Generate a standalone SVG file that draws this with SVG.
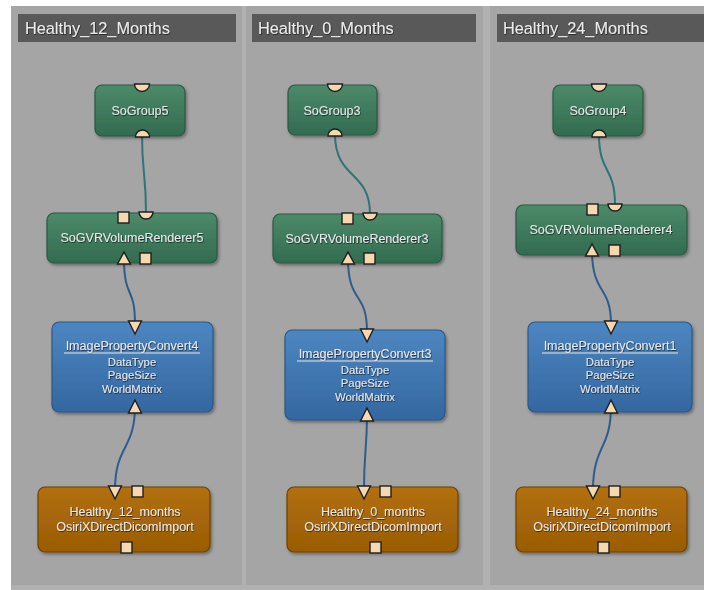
<svg xmlns="http://www.w3.org/2000/svg" width="704" height="590" viewBox="0 0 704 590">
<defs>
<linearGradient id="gGreen" x1="0" y1="0" x2="0" y2="1"><stop offset="0" stop-color="#4b8a69"/><stop offset="1" stop-color="#336b50"/></linearGradient>
<linearGradient id="gBlue" x1="0" y1="0" x2="0" y2="1"><stop offset="0" stop-color="#4d86c0"/><stop offset="1" stop-color="#3467a0"/></linearGradient>
<linearGradient id="gOrange" x1="0" y1="0" x2="0" y2="1"><stop offset="0" stop-color="#b2700c"/><stop offset="1" stop-color="#995c04"/></linearGradient>
<filter id="shadow" x="-10%" y="-10%" width="125%" height="135%"><feDropShadow dx="1.5" dy="2" stdDeviation="1.5" flood-color="#000" flood-opacity="0.35"/></filter>
<filter id="tshadow" x="-5%" y="-20%" width="110%" height="150%"><feDropShadow dx="0.6" dy="0.8" stdDeviation="0.4" flood-color="#000" flood-opacity="0.7"/></filter>
</defs>
<style>
.panel{fill:#a5a5a5}
.title{fill:#595959}
.ttext{font-family:"Liberation Sans",Arial,sans-serif;font-size:16.3px;fill:#ececec;filter:url(#tshadow)}
.green{fill:url(#gGreen);stroke:#2a5842;stroke-width:1.2;filter:url(#shadow)}
.blue{fill:url(#gBlue);stroke:#2b5886;stroke-width:1.2;filter:url(#shadow)}
.orange{fill:url(#gOrange);stroke:#6c4204;stroke-width:1.2;filter:url(#shadow)}
.lbl{font-family:"Liberation Sans",Arial,sans-serif;font-size:12.5px;fill:#e8e8e8;text-anchor:middle;filter:url(#tshadow)}
.sub{font-family:"Liberation Sans",Arial,sans-serif;font-size:11.3px;fill:#e8e8e8;text-anchor:middle;filter:url(#tshadow)}
.port{fill:#f6d8b0;stroke:#1e1e1e;stroke-width:1.4}
.c-teal{fill:none;stroke:#2f7478;stroke-width:2}
.c-blue{fill:none;stroke:#2e5d8c;stroke-width:2}
.ul{stroke:#e8e8e8;stroke-width:1.1}
</style>
<rect x="0" y="0" width="704" height="590" fill="#ffffff"/>
<rect x="11" y="6" width="693" height="584" fill="#b1b1b1"/>
<rect class="panel" x="11" y="6" width="231" height="579"/>
<rect class="panel" x="246" y="6" width="237" height="579"/>
<rect class="panel" x="490" y="6" width="214" height="579"/>
<rect class="title" x="18" y="14" width="218" height="28"/>
<rect class="title" x="252" y="14" width="224" height="28"/>
<rect class="title" x="497" y="14" width="207" height="28"/>
<text class="ttext" x="25" y="34">Healthy_12_Months</text>
<text class="ttext" x="258" y="34">Healthy_0_Months</text>
<text class="ttext" x="503" y="34">Healthy_24_Months</text>

<g id="connectors">
<path class="c-teal" d="M142,134 C142,175 146,172 146,213"/>
<path class="c-blue" d="M124,258 C124,300 135,285 135,324"/>
<path class="c-blue" d="M135,406 C135,450 115,445 115,490"/>
<path class="c-teal" d="M335,134 C335,180 370,170 370,214"/>
<path class="c-blue" d="M348,258 C348,305 367,290 367,332"/>
<path class="c-blue" d="M367,414 C367,450 364,450 364,490"/>
<path class="c-teal" d="M599,134 C599,175 615,165 615,205"/>
<path class="c-blue" d="M592,250 C592,295 611,285 611,324"/>
<path class="c-blue" d="M611,406 C611,450 593,445 593,490"/>
</g>

<g id="SoGroup5">
<rect class="green" x="95" y="85" width="90" height="51" rx="7"/>
<path class="port" d="M134.5,84 A7.5,7.5 0 0 0 149.5,84 Z"/>
<path class="port" d="M135.5,137 A7,7 0 0 1 149.5,137 Z"/>
<text class="lbl" x="140" y="115">SoGroup5</text>
</g>
<g id="SoGVRVolumeRenderer5">
<rect class="green" x="47" y="213" width="170" height="50" rx="7"/>
<rect class="port" x="118" y="212" width="11" height="11"/>
<path class="port" d="M139,212 A7,7 0 0 0 153,212 Z"/>
<path class="port" d="M117.5,264 L124,252 L130.5,264 Z"/>
<rect class="port" x="140" y="253" width="11" height="11"/>
<text class="lbl" x="132" y="242">SoGVRVolumeRenderer5</text>
</g>
<g id="ImagePropertyConvert4">
<rect class="blue" x="52" y="322" width="161" height="90" rx="7"/>
<path class="port" d="M128.5,321 L135,334 L141.5,321 Z"/>
<path class="port" d="M128.5,413 L135,400 L141.5,413 Z"/>
<text class="lbl" x="132" y="350">ImagePropertyConvert4</text>
<line class="ul" x1="64" y1="353" x2="200" y2="353"/>
<text class="sub" x="132" y="366">DataType</text>
<text class="sub" x="132" y="379">PageSize</text>
<text class="sub" x="132" y="393">WorldMatrix</text>
</g>
<g id="Healthy_12_months">
<rect class="orange" x="38" y="487" width="172" height="65" rx="7"/>
<path class="port" d="M108.5,486 L115,499 L121.5,486 Z"/>
<rect class="port" x="132" y="486" width="11" height="11"/>
<rect class="port" x="121" y="542" width="11" height="11"/>
<text class="lbl" x="125" y="516">Healthy_12_months</text>
<text class="lbl" x="125" y="531">OsiriXDirectDicomImport</text>
</g>

<g id="SoGroup3">
<rect class="green" x="288" y="85" width="89" height="50" rx="7"/>
<path class="port" d="M327.5,84 A7.5,7.5 0 0 0 342.5,84 Z"/>
<path class="port" d="M328,136 A7,7 0 0 1 342,136 Z"/>
<text class="lbl" x="332" y="115">SoGroup3</text>
</g>
<g id="SoGVRVolumeRenderer3">
<rect class="green" x="273" y="214" width="169" height="49" rx="7"/>
<rect class="port" x="342" y="213" width="11" height="11"/>
<path class="port" d="M363,213 A7,7 0 0 0 377,213 Z"/>
<path class="port" d="M341.5,264 L348,252 L354.5,264 Z"/>
<rect class="port" x="364" y="253" width="11" height="11"/>
<text class="lbl" x="357" y="243">SoGVRVolumeRenderer3</text>
</g>
<g id="ImagePropertyConvert3">
<rect class="blue" x="285" y="330" width="160" height="90" rx="7"/>
<path class="port" d="M360.5,329 L367,342 L373.5,329 Z"/>
<path class="port" d="M360.5,421 L367,408 L373.5,421 Z"/>
<text class="lbl" x="365" y="358">ImagePropertyConvert3</text>
<line class="ul" x1="297" y1="361" x2="433" y2="361"/>
<text class="sub" x="365" y="374">DataType</text>
<text class="sub" x="365" y="387">PageSize</text>
<text class="sub" x="365" y="401">WorldMatrix</text>
</g>
<g id="Healthy_0_months">
<rect class="orange" x="287" y="487" width="171" height="65" rx="7"/>
<path class="port" d="M357.5,486 L364,499 L370.5,486 Z"/>
<rect class="port" x="380" y="486" width="11" height="11"/>
<rect class="port" x="370" y="542" width="11" height="11"/>
<text class="lbl" x="373" y="516">Healthy_0_months</text>
<text class="lbl" x="373" y="531">OsiriXDirectDicomImport</text>
</g>

<g id="SoGroup4">
<rect class="green" x="553" y="85" width="90" height="51" rx="7"/>
<path class="port" d="M591.5,84 A7.5,7.5 0 0 0 606.5,84 Z"/>
<path class="port" d="M592,137 A7,7 0 0 1 606,137 Z"/>
<text class="lbl" x="598" y="115">SoGroup4</text>
</g>
<g id="SoGVRVolumeRenderer4">
<rect class="green" x="516" y="205" width="171" height="50" rx="7"/>
<rect class="port" x="587" y="204" width="11" height="11"/>
<path class="port" d="M608,204 A7,7 0 0 0 622,204 Z"/>
<path class="port" d="M585.5,256 L592,244 L598.5,256 Z"/>
<rect class="port" x="609" y="245" width="11" height="11"/>
<text class="lbl" x="601" y="234">SoGVRVolumeRenderer4</text>
</g>
<g id="ImagePropertyConvert1">
<rect class="blue" x="528" y="322" width="164" height="90" rx="7"/>
<path class="port" d="M604.5,321 L611,334 L617.5,321 Z"/>
<path class="port" d="M604.5,413 L611,400 L617.5,413 Z"/>
<text class="lbl" x="610" y="350">ImagePropertyConvert1</text>
<line class="ul" x1="542" y1="353" x2="678" y2="353"/>
<text class="sub" x="610" y="366">DataType</text>
<text class="sub" x="610" y="379">PageSize</text>
<text class="sub" x="610" y="393">WorldMatrix</text>
</g>
<g id="Healthy_24_months">
<rect class="orange" x="516" y="487" width="171" height="65" rx="7"/>
<path class="port" d="M586.5,486 L593,499 L599.5,486 Z"/>
<rect class="port" x="609" y="486" width="11" height="11"/>
<rect class="port" x="598" y="542" width="11" height="11"/>
<text class="lbl" x="602" y="516">Healthy_24_months</text>
<text class="lbl" x="602" y="531">OsiriXDirectDicomImport</text>
</g>
</svg>
